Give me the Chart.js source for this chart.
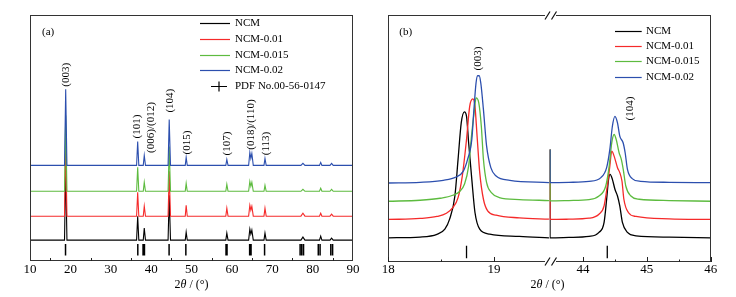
<!DOCTYPE html>
<html>
<head>
<meta charset="utf-8">
<script src="https://cdn.jsdelivr.net/npm/chart.js@4.4.0/dist/chart.umd.min.js"></script>
<style>
  html, body { margin: 0; padding: 0; background: #fff; }
  #wrap { position: relative; width: 736px; height: 297px; }
  #chartA { position: absolute; left: 0; top: 0; }
  #chartB { position: absolute; left: 370px; top: 0; }
</style>
</head>
<body>
<div id="wrap">
  <canvas id="chartA" width="370" height="297"></canvas>
  <canvas id="chartB" width="366" height="297"></canvas>
</div>
<script>
var names = ['NCM', 'NCM-0.01', 'NCM-0.015', 'NCM-0.02'];
var colors = ['#000000', '#f52a2a', '#5dbb3f', '#2c4fae'];

// (a) whole pattern, curves already shifted up (a.u.)
var thetaA = [10, 18.55, 18.84, 19.15, 36.4, 36.67, 36.95, 38.05, 38.3, 38.6, 44.2, 44.48, 44.8,
  48.45, 48.68, 48.95, 58.5, 58.75, 59.05, 64.15, 64.45, 64.7, 64.95, 65.3, 67.95, 68.2, 68.5,
  77.1, 77.6, 78.1, 81.7, 82.0, 82.3, 84.3, 84.7, 85.1, 90];
var ncmA = [21, 21, 96, 21, 21, 45, 21, 21, 33, 21, 21, 66, 21, 21, 29, 21, 21, 28, 21,
  21, 32, 27, 31, 21, 21, 28, 21, 21, 24, 21, 21, 25, 21, 21, 23, 21, 21];
var ncm001A = [45, 45, 120, 45, 45, 69, 45, 45, 55, 45, 45, 90, 45, 45, 56, 45, 45, 53, 45,
  45, 56, 51, 55, 45, 45, 53, 45, 45, 48, 45, 45, 48, 45, 45, 47, 45, 45];
var ncm0015A = [70, 70, 146, 70, 70, 94, 70, 70, 79, 70, 70, 115, 70, 70, 78, 70, 70, 77, 70,
  70, 80, 75, 79, 70, 70, 76, 70, 70, 72, 70, 70, 73, 70, 70, 72, 70, 70];
var ncm002A = [96, 96, 172.5, 96, 96, 120, 96, 96, 106, 96, 96, 142, 96, 96, 104, 96, 96, 102, 96,
  96, 109, 103, 108, 96, 96, 103, 96, 96, 98, 96, 96, 99, 96, 96, 98, 96, 96];
var pdfA = [18.8, 36.7, 38.0, 38.35, 44.45, 48.6, 58.55, 58.8, 64.4, 64.75, 68.1,
  76.9, 77.3, 77.75, 81.4, 81.85, 84.5, 84.95];
var peaksA = ['(003)', '(101)', '(006)/(012)', '(104)', '(015)', '(107)', '(018)/(110)', '(113)'];
var peakXA = [18.84, 36.43, 39.9, 44.67, 48.8, 58.7, 64.66, 68.6];
var peakYA = [187, 135, 134, 161, 119, 118, 137, 118];
var xTicksA = [10, 20, 30, 40, 50, 60, 70, 80, 90];
var minorA = [15, 25, 35, 45, 55, 65, 75, 85];

// (b) close-up of (003) and (104), broken axis
var ncmB003 = [[18.0, 24.0], [18.3, 24.7], [18.46, 27.4], [18.535, 32.7], [18.58, 42.7], [18.63, 66.0],
  [18.66, 102.7], [18.69, 139.4], [18.72, 150.4], [18.74, 146.0], [18.76, 119.4], [18.79, 82.7],
  [18.82, 49.4], [18.865, 32.7], [18.96, 27.7], [19.24, 25.4], [19.52, 24.0]];
var ncm001B003 = [[18.0, 42.4], [18.3, 43.4], [18.46, 45.4], [18.55, 48.7], [18.61, 54.4], [18.66, 64.4],
  [18.7, 86.0], [18.74, 122.7], [18.77, 156.0], [18.8, 163.4], [18.82, 156.0], [18.84, 126.0],
  [18.865, 89.4], [18.9, 62.7], [18.94, 51.0], [19.02, 46.7], [19.24, 44.0], [19.52, 42.7]];
var ncm0015B003 = [[18.0, 60.7], [18.3, 61.7], [18.49, 63.7], [18.61, 66.7], [18.68, 71.0], [18.72, 77.7],
  [18.76, 96.0], [18.79, 129.4], [18.815, 152.7], [18.83, 164.4], [18.856, 159.4], [18.88, 136.0],
  [18.9, 102.7], [18.93, 79.4], [18.975, 69.4], [19.05, 64.4], [19.24, 62.4], [19.52, 61.4]];
var ncm002B003 = [[18.0, 79.0], [18.3, 79.7], [18.52, 81.7], [18.64, 85.0], [18.71, 91.0], [18.75, 102.7],
  [18.79, 122.7], [18.81, 152.7], [18.83, 179.4], [18.845, 186.7], [18.86, 186.7], [18.875, 179.4],
  [18.9, 152.7], [18.93, 116.0], [18.97, 94.4], [19.02, 86.0], [19.15, 81.7], [19.52, 79.4]];
var ncmB104 = [[43.483, 112.7], [43.483, 24.0], [43.78, 24.4], [44.094, 25.4], [44.25, 29.4], [44.33, 39.4],
  [44.37, 62.7], [44.4, 82.7], [44.424, 87.7], [44.46, 82.7], [44.5, 72.7], [44.54, 66.0],
  [44.576, 56.0], [44.617, 39.4], [44.696, 29.4], [44.83, 26.0], [45.35, 24.7], [46, 24.0]];
var ncm001B104 = [[43.483, 112.7], [43.483, 42.4], [43.78, 42.7], [44.094, 43.7], [44.25, 47.7], [44.33, 56.0],
  [44.38, 76.0], [44.42, 96.0], [44.45, 111.0], [44.487, 106.0], [44.54, 94.4], [44.576, 89.4],
  [44.61, 81.0], [44.64, 62.7], [44.71, 49.4], [44.83, 45.4], [45.35, 43.0], [46, 42.4]];
var ncm0015B104 = [[43.483, 112.7], [43.483, 61.0], [43.78, 61.4], [44.094, 62.4], [44.25, 66.0], [44.356, 76.0],
  [44.41, 96.0], [44.45, 119.4], [44.487, 127.7], [44.52, 122.7], [44.565, 109.4], [44.6, 102.7],
  [44.63, 92.7], [44.67, 76.0], [44.75, 66.0], [44.88, 62.7], [45.35, 61.4], [46, 60.7]];
var ncm002B104 = [[43.483, 112.7], [43.483, 79.4], [43.78, 79.7], [44.094, 80.7], [44.28, 84.4], [44.37, 94.4],
  [44.42, 112.7], [44.46, 136.0], [44.5, 146.0], [44.54, 139.4], [44.576, 126.0], [44.628, 119.4],
  [44.66, 109.4], [44.696, 92.7], [44.77, 83.4], [44.9, 80.7], [45.35, 79.7], [46, 79.4]];
var pdfB003 = [18.74];
var pdfB104 = [44.38];
var xTicksBL = [18, 19];
var xTicksBR = [44, 45, 46];
var minorBL = [18.5];
var minorBR = [44.5, 45.5];

var seriesA = [ncmA, ncm001A, ncm0015A, ncm002A];
var seriesB003 = [ncmB003, ncm001B003, ncm0015B003, ncm002B003];
var seriesB104 = [ncmB104, ncm001B104, ncm0015B104, ncm002B104];

var serif = "'Liberation Serif', 'Times New Roman', serif";

function sticks(pos, lo, hi) {
  var d = [];
  pos.forEach(function(p) { d.push({x: p, y: lo}, {x: p, y: hi}, {x: p, y: null}); });
  return d;
}

function drawFrame(ctx, a, gx) {
  ctx.save();
  ctx.strokeStyle = '#333';
  ctx.lineWidth = 1;
  var l = Math.round(a.left) + 0.5, r = Math.round(a.right) - 0.5;
  var t = Math.round(a.top) + 0.5, b = Math.round(a.bottom) - 0.5;
  ctx.strokeRect(l, t, r - l, b - t);
  if (gx !== null) {
    ctx.fillStyle = '#fff';
    ctx.fillRect(gx - 5, t - 3, 11, 6);
    ctx.fillRect(gx - 5, b - 3, 11, 6);
    ctx.beginPath();
    [t, b].forEach(function(y) {
      ctx.moveTo(gx - 5, y + 4); ctx.lineTo(gx, y - 4);
      ctx.moveTo(gx + 1.5, y + 4); ctx.lineTo(gx + 6.5, y - 4);
    });
    ctx.lineWidth = 1.2;
    ctx.strokeStyle = '#111';
    ctx.stroke();
  }
  ctx.restore();
}

function drawTicks(ctx, scale, y, vals, len) {
  ctx.save();
  ctx.strokeStyle = '#222';
  ctx.lineWidth = 1;
  ctx.beginPath();
  vals.forEach(function(v) {
    var x = Math.round(scale.getPixelForValue(v)) + 0.5;
    ctx.moveTo(x, y); ctx.lineTo(x, y - len);
  });
  ctx.stroke();
  ctx.restore();
}

function drawPeakLabels(ctx, sx, sy, texts, xs, ys) {
  ctx.save();
  ctx.font = '11px ' + serif;
  ctx.fillStyle = '#000';
  ctx.textAlign = 'center';
  ctx.textBaseline = 'middle';
  texts.forEach(function(t, i) {
    ctx.save();
    ctx.translate(sx.getPixelForValue(xs[i]), sy.getPixelForValue(ys[i]));
    ctx.rotate(-Math.PI / 2);
    ctx.fillText(t, 0, 0);
    ctx.restore();
  });
  ctx.restore();
}

function drawTitle(ctx, cx, cy) {
  var parts = [['2', '12px ' + serif], ['\u03b8', 'italic 12px ' + serif], [' / (\u00b0)', '12px ' + serif]];
  ctx.save();
  ctx.fillStyle = '#000';
  ctx.textBaseline = 'middle';
  ctx.textAlign = 'left';
  var w = 0;
  parts.forEach(function(p) { ctx.font = p[1]; w += ctx.measureText(p[0]).width; });
  var x = cx - w / 2;
  parts.forEach(function(p) { ctx.font = p[1]; ctx.fillText(p[0], x, cy); x += ctx.measureText(p[0]).width; });
  ctx.restore();
}

function drawLegend(ctx, x0, x1, tx, y0, dy, withPdf) {
  ctx.save();
  ctx.font = '11px ' + serif;
  ctx.textBaseline = 'middle';
  ctx.fillStyle = '#000';
  names.forEach(function(n, i) {
    var y = Math.round(y0 + i * dy) + 0.5;
    ctx.strokeStyle = colors[i];
    ctx.lineWidth = 1.2;
    ctx.beginPath(); ctx.moveTo(x0, y); ctx.lineTo(x1, y); ctx.stroke();
    ctx.fillText(n, tx, y);
  });
  if (withPdf) {
    var y = Math.round(y0 + 4 * dy) + 0.5, xm = (x0 + x1) / 2 + 4;
    ctx.strokeStyle = '#000';
    ctx.lineWidth = 1.2;
    ctx.beginPath();
    ctx.moveTo(xm - 8, y); ctx.lineTo(xm + 8, y);
    ctx.moveTo(xm, y - 5); ctx.lineTo(xm, y + 5);
    ctx.stroke();
    ctx.fillText('PDF No.00-56-0147', tx, y);
  }
  ctx.restore();
}

function drawTag(ctx, t, x, y) {
  ctx.save();
  ctx.font = '11px ' + serif;
  ctx.fillStyle = '#000';
  ctx.textBaseline = 'middle';
  ctx.fillText(t, x, y);
  ctx.restore();
}

var tickFont = {family: serif, size: 13, lineHeight: 1.1};

// ---------- (a)
var datasetsA = seriesA.map(function(ys, i) {
  return {
    label: names[i],
    data: thetaA.map(function(x, k) { return {x: x, y: ys[k]}; }),
    borderColor: colors[i],
    borderWidth: 1.1,
    pointRadius: 0,
    order: names.length - i
  };
});
datasetsA.push({label: 'PDF', data: sticks(pdfA, 5.5, 17), borderColor: '#000', borderWidth: 1.5, pointRadius: 0, spanGaps: false, order: 10});

var decorA = {
  id: 'decorA',
  afterDraw: function(chart) {
    var ctx = chart.ctx, a = chart.chartArea;
    drawFrame(ctx, a, null);
    drawTicks(ctx, chart.scales.x, Math.round(a.bottom), minorA, 3);
    drawPeakLabels(ctx, chart.scales.x, chart.scales.y, peaksA, peakXA, peakYA);
    drawTitle(ctx, (a.left + a.right) / 2, 284.5);
    drawLegend(ctx, 200, 230, 235, 23.3, 15.6, true);
    drawTag(ctx, '(a)', 42, 31.7);
  }
};

new Chart(document.getElementById('chartA'), {
  type: 'line',
  data: {datasets: datasetsA},
  options: {
    responsive: false,
    animation: false,
    events: [],
    layout: {padding: {left: 30, right: 17, top: 14.5, bottom: 19.7}},
    scales: {
      x: {
        type: 'linear', min: 10, max: 90,
        grid: {display: false, drawTicks: false},
        border: {display: false},
        afterBuildTicks: function(s) { s.ticks = xTicksA.map(function(v) { return {value: v}; }); },
        ticks: {padding: 1, color: '#000', font: tickFont, maxRotation: 0, autoSkip: false,
          callback: function(v) { return String(v); }}
      },
      y: {display: false, min: 0, max: 247.5}
    },
    plugins: {legend: {display: false}, tooltip: {enabled: false}}
  },
  plugins: [decorA]
});

// ---------- (b)
var datasetsB = [];
seriesB003.forEach(function(arr, i) {
  datasetsB.push({
    label: names[i], xAxisID: 'xL', yAxisID: 'y',
    data: arr.map(function(p) { return {x: p[0], y: p[1]}; }),
    borderColor: colors[i], borderWidth: 1.3, pointRadius: 0,
    cubicInterpolationMode: 'monotone', order: names.length - i
  });
});
seriesB104.forEach(function(arr, i) {
  datasetsB.push({
    label: names[i], xAxisID: 'xR', yAxisID: 'y',
    data: arr.map(function(p) { return {x: p[0], y: p[1]}; }),
    borderColor: colors[i], borderWidth: 1.3, pointRadius: 0,
    cubicInterpolationMode: 'monotone', order: names.length - i
  });
});
datasetsB.push({label: 'PDF', xAxisID: 'xL', yAxisID: 'y', data: sticks(pdfB003, 3.4, 16), borderColor: '#000', borderWidth: 1.3, pointRadius: 0, order: 10});
datasetsB.push({label: 'PDF', xAxisID: 'xR', yAxisID: 'y', data: sticks(pdfB104, 3.4, 16), borderColor: '#000', borderWidth: 1.3, pointRadius: 0, order: 10});

var decorB = {
  id: 'decorB',
  afterDraw: function(chart) {
    var ctx = chart.ctx, a = chart.chartArea;
    var gx = Math.round(chart.scales.xL.right);
    drawFrame(ctx, a, gx);
    var yb = Math.round(a.bottom);
    drawTicks(ctx, chart.scales.xL, yb, xTicksBL, 5);
    drawTicks(ctx, chart.scales.xR, yb, xTicksBR, 5);
    drawTicks(ctx, chart.scales.xL, yb, minorBL, 2.5);
    drawTicks(ctx, chart.scales.xR, yb, minorBR, 2.5);
    drawPeakLabels(ctx, chart.scales.xL, chart.scales.y, ['(003)'], [18.85], [204]);
    drawPeakLabels(ctx, chart.scales.xR, chart.scales.y, ['(104)'], [44.73], [153.7]);
    drawTitle(ctx, (a.left + a.right) / 2 - 2, 284.5);
    drawLegend(ctx, 245, 271.7, 276, 30.7, 15.3, false);
    drawTag(ctx, '(b)', 29.3, 31.7);
  }
};

function axisB(min, max, vals) {
  return {
    type: 'linear', position: 'bottom', stack: 'b', stackWeight: 1,
    min: min, max: max,
    grid: {display: false, drawTicks: false},
    border: {display: false},
    afterBuildTicks: function(s) { s.ticks = vals.map(function(v) { return {value: v}; }); },
    ticks: {padding: 1, color: '#000', font: tickFont, maxRotation: 0, autoSkip: false,
      callback: function(v) { return String(v); }}
  };
}

new Chart(document.getElementById('chartB'), {
  type: 'line',
  data: {datasets: datasetsB},
  options: {
    responsive: false,
    animation: false,
    events: [],
    layout: {padding: {left: 18.3, right: 25.3, top: 14.5, bottom: 19}},
    scales: {
      xL: axisB(18, 19.525, xTicksBL),
      xR: axisB(43.475, 46, xTicksBR),
      y: {display: false, min: 0, max: 248.2}
    },
    plugins: {legend: {display: false}, tooltip: {enabled: false}}
  },
  plugins: [decorB]
});
</script>
</body>
</html>
